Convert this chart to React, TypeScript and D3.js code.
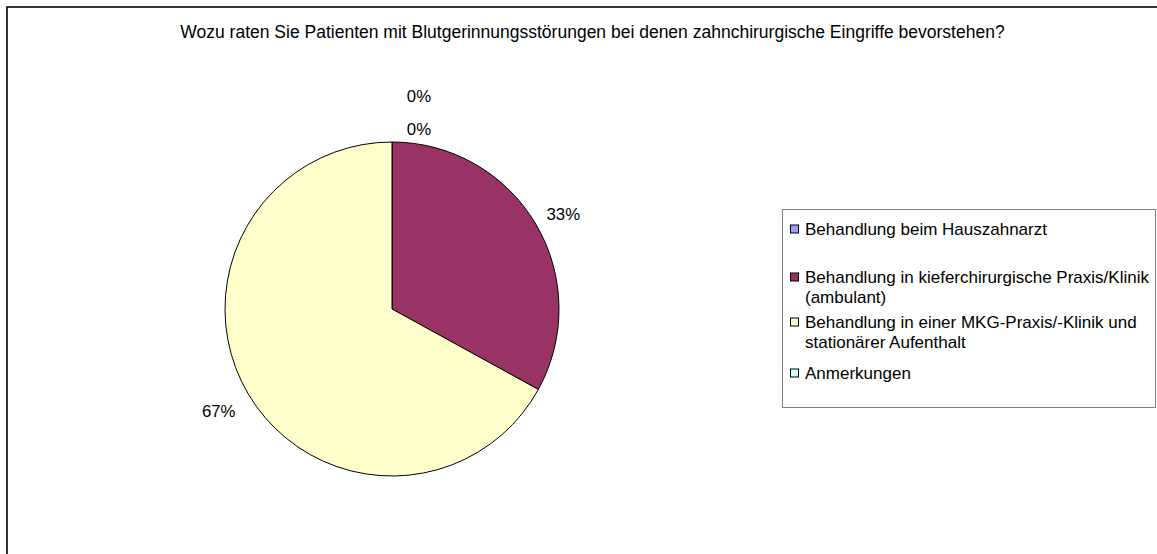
import React from "react";
import * as d3 from "d3";

const title =
  "Wozu raten Sie Patienten mit Blutgerinnungsstörungen bei denen zahnchirurgische Eingriffe bevorstehen?";
const categories = [
  "Behandlung beim Hauszahnarzt",
  "Behandlung in kieferchirurgische Praxis/Klinik (ambulant)",
  "Behandlung in einer MKG-Praxis/-Klinik und stationärer Aufenthalt",
  "Anmerkungen",
];
const legendLines = [
  ["Behandlung beim Hauszahnarzt"],
  ["Behandlung in kieferchirurgische Praxis/Klinik", "(ambulant)"],
  ["Behandlung in einer MKG-Praxis/-Klinik und", "stationärer Aufenthalt"],
  ["Anmerkungen"],
];
const values = [0, 33, 67, 0];
const colors = ["#9999FF", "#993366", "#FFFFCC", "#CCFFFF"];

const W = 1157;
const H = 554;
const FONT = "'Liberation Sans', Arial, sans-serif";

export default function App() {
  const cx = 392;
  const cy = 309;
  const R = 167;
  const total = d3.sum(values);
  const pie = d3
    .pie<number>()
    .sort(null)
    .value((d) => d)
    .startAngle(0)
    .endAngle(2 * Math.PI);
  const arcs = pie(values);
  const arcGen = d3.arc<d3.PieArcDatum<number>>().innerRadius(0).outerRadius(R);

  const labelR = 182;
  let zeroCount = 0;
  const labels = arcs.map((a, i) => {
    const txt = `${Math.round((a.value / total) * 100)}%`;
    if (a.value === 0) {
      const k = zeroCount++;
      return { txt, x: cx + 27, y: cy - R - 13 - 33 * k, i };
    }
    const m = (a.startAngle + a.endAngle) / 2;
    const s = Math.sin(m);
    const c = Math.cos(m);
    const w = 34;
    const h = 14;
    return {
      txt,
      x: cx + s * labelR + (s * w) / 2 - (s < 0 ? 2 : 0),
      y: cy - c * labelR - (c * h) / 2 + (c < 0 ? 6 : 2),
      i,
    };
  });

  const legendRowY = [229, 277, 322, 373];
  const lineH = 20;

  return (
    <svg
      width={W}
      height={H}
      style={{ position: "absolute", left: 0, top: 0, background: "#fff" }}
      fontFamily={FONT}
    >
      <rect x={0} y={0} width={W} height={H} fill="#fff" />
      <rect
        x={7}
        y={7}
        width={W + 50}
        height={H + 50}
        fill="none"
        stroke="#000"
        strokeWidth={1.6}
      />
      <text
        x={592.5}
        y={32}
        textAnchor="middle"
        dominantBaseline="central"
        fontSize={17.5}
        fill="#000"
      >
        {title}
      </text>
      <g>
        {arcs.map((a, i) =>
          a.value > 0 ? (
            <path
              key={i}
              d={arcGen(a) || ""}
              transform={`translate(${cx},${cy})`}
              fill={colors[i]}
              stroke="#000"
              strokeWidth={1}
            />
          ) : null
        )}
      </g>
      <g fontSize={16.8} fill="#000">
        {labels.map((l) => (
          <text
            key={l.i}
            x={l.x}
            y={l.y}
            textAnchor="middle"
            dominantBaseline="central"
          >
            {l.txt}
          </text>
        ))}
      </g>
      <rect
        x={782.5}
        y={209.5}
        width={373}
        height={198}
        fill="#fff"
        stroke="#808080"
        strokeWidth={1}
      />
      <g fontSize={17} fill="#000">
        {categories.map((cat, i) => (
          <g key={cat}>
            <rect
              x={790.5}
              y={legendRowY[i] - 4}
              width={8}
              height={8}
              fill={colors[i]}
              stroke="#000"
              strokeWidth={1}
            />
            {legendLines[i].map((ln, j) => (
              <text
                key={j}
                x={805}
                y={legendRowY[i] + j * lineH}
                dominantBaseline="central"
              >
                {ln}
              </text>
            ))}
          </g>
        ))}
      </g>
    </svg>
  );
}
